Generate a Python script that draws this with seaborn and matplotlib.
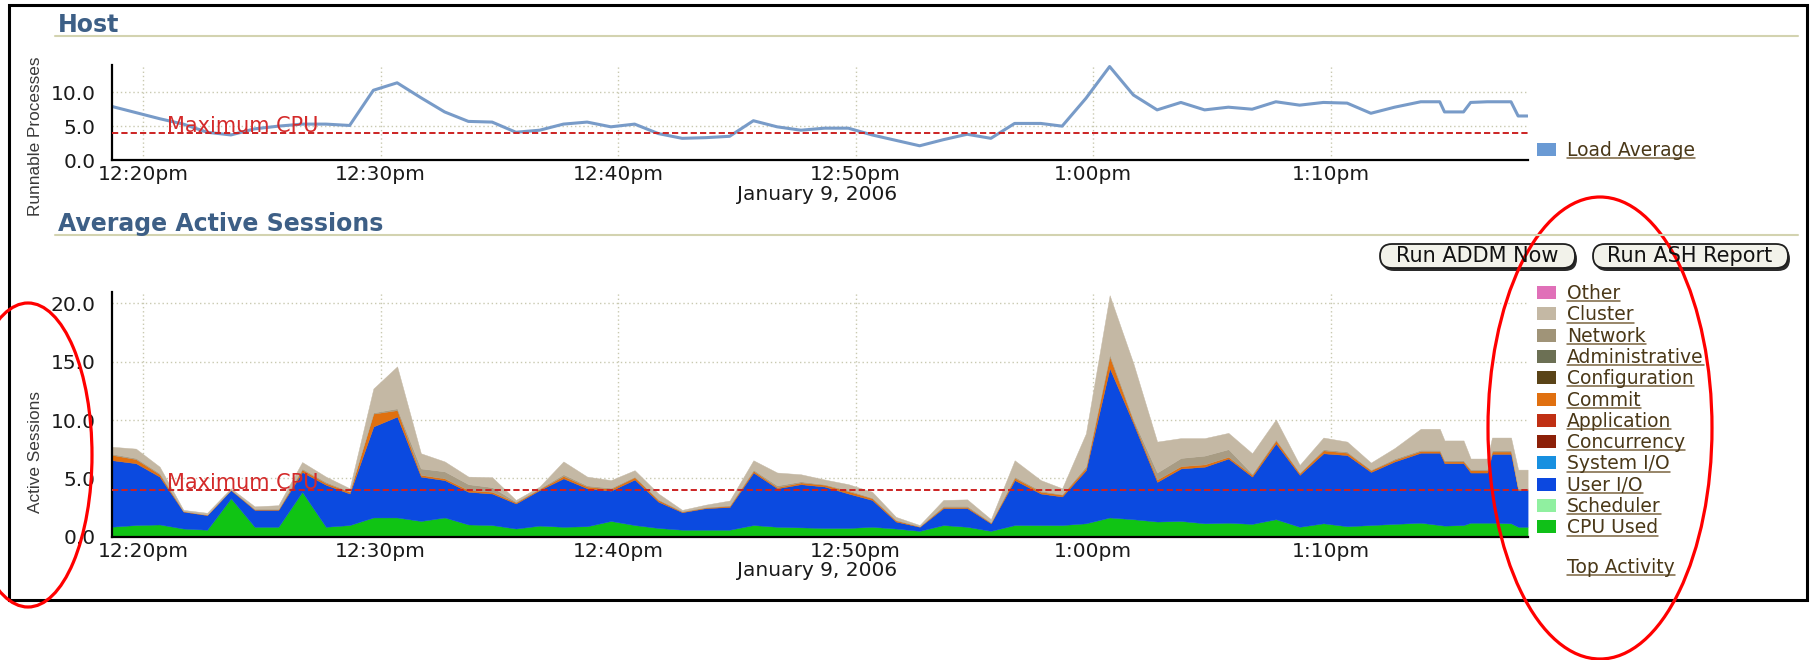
import matplotlib
matplotlib.use("Agg")
import matplotlib.pyplot as plt
from matplotlib.patches import Rectangle, Ellipse, FancyBboxPatch
import pandas as pd
import seaborn as sns

# data, x = minutes after 12:20pm
minutes = [-1.3, -0.3, 0.7, 1.7, 2.7, 3.7, 4.7, 5.7, 6.7, 7.7, 8.7, 9.7, 10.7, 11.7, 12.7,
           13.7, 14.7, 15.7, 16.7, 17.7, 18.7, 19.7, 20.7, 21.7, 22.7, 23.7, 24.7, 25.7,
           26.7, 27.7, 28.7, 29.7, 30.7, 31.7, 32.7, 33.7, 34.7, 35.7, 36.7, 37.8, 38.7,
           39.7, 40.7, 41.7, 42.7, 43.7, 44.7, 45.7, 46.7, 47.7, 48.7, 49.7, 50.7, 51.7,
           52.7, 53.8, 54.6, 54.8, 55.6, 55.9, 56.6, 56.8, 57.6, 57.9, 58.3]

load_avg = [7.9, 7.0, 6.1, 5.3, 4.1, 3.7, 4.6, 5.0, 5.3, 5.3, 5.1, 10.3, 11.4, 9.2, 7.1, 5.7, 5.6, 4.1, 4.4, 5.3,
            5.6, 4.9, 5.3, 3.9, 3.2, 3.3, 3.5, 5.8, 4.9, 4.4, 4.7, 4.7, 3.7, 2.9, 2.1, 3.0, 3.8, 3.2, 5.4, 5.4,
            5.0, 9.1, 13.8, 9.6, 7.4, 8.5, 7.4, 7.8, 7.5, 8.6, 8.1, 8.5, 8.4, 6.9, 7.8, 8.6, 8.6, 7.1, 7.1, 8.5,
            8.6, 8.6, 8.6, 6.5, 6.5]

cpu_used = [0.86, 1.0, 1.05, 0.7, 0.6, 3.3, 0.85, 0.85, 3.85, 0.85, 1.0, 1.65, 1.65, 1.35, 1.65, 1.05, 1.0, 0.7, 0.95, 0.85,
            0.9, 1.35, 1.0, 0.75, 0.6, 0.6, 0.6, 1.0, 0.85, 0.8, 0.75, 0.75, 0.85, 0.7, 0.5, 1.0, 0.85, 0.5, 1.0, 1.0,
            1.0, 1.15, 1.65, 1.5, 1.3, 1.35, 1.15, 1.2, 1.1, 1.5, 0.85, 1.15, 0.9, 1.0, 1.1, 1.2, 1.0, 0.95, 1.0, 1.2,
            1.2, 1.2, 1.15, 0.85, 0.85]

user_io = [5.7, 5.3, 4.1, 1.45, 1.25, 0.7, 1.45, 1.45, 1.7, 3.6, 2.7, 7.8, 8.65, 3.8, 3.2, 2.8, 2.7, 2.15, 3.05, 4.15,
           3.25, 2.6, 3.9, 2.25, 1.5, 1.85, 1.95, 4.5, 3.3, 3.7, 3.55, 2.95, 2.3, 0.6, 0.35, 1.45, 1.6, 0.65, 3.85, 2.7,
           2.45, 4.55, 12.8, 8.2, 3.4, 4.5, 4.85, 5.5, 4.05, 6.5, 4.45, 6.0, 6.1, 4.55, 5.35, 6.0, 6.2, 5.35, 5.3, 4.3,
           4.3, 5.9, 5.95, 3.15, 3.15]

commit = [0.45, 0.35, 0.2, 0.05, 0.05, 0.05, 0.05, 0.05, 0.2, 0.15, 0.15, 1.1, 0.55, 0.15, 0.15, 0.15, 0.15, 0.1, 0.1, 0.2,
          0.15, 0.15, 0.2, 0.15, 0.05, 0.05, 0.1, 0.15, 0.1, 0.15, 0.15, 0.2, 0.15, 0.1, 0.05, 0.1, 0.1, 0.05, 0.2, 0.15,
          0.15, 0.2, 1.0, 0.2, 0.2, 0.2, 0.2, 0.15, 0.15, 0.25, 0.15, 0.25, 0.2, 0.15, 0.15, 0.15, 0.15, 0.15, 0.15, 0.2,
          0.2, 0.2, 0.2, 0.05, 0.05]

network = [0.1, 0.1, 0.1, 0.0, 0.0, 0.0, 0.05, 0.05, 0.1, 0.1, 0.05, 0.1, 0.15, 0.55, 0.6, 0.5, 0.4, 0.05, 0.05, 0.15,
           0.1, 0.1, 0.05, 0.05, 0.05, 0.05, 0.05, 0.1, 0.15, 0.1, 0.05, 0.1, 0.05, 0.05, 0.0, 0.1, 0.1, 0.05, 0.1, 0.1,
           0.05, 0.15, 0.2, 0.15, 0.6, 0.7, 0.75, 0.65, 0.1, 0.1, 0.05, 0.1, 0.1, 0.05, 0.1, 0.1, 0.1, 0.1, 0.1, 0.1,
           0.1, 0.1, 0.1, 0.1, 0.1]

cluster = [0.6, 0.8, 0.55, 0.1, 0.15, 0.1, 0.2, 0.3, 0.55, 0.45, 0.25, 2.05, 3.6, 1.3, 0.85, 0.65, 0.85, 0.15, 0.15, 1.1,
           0.75, 0.65, 0.55, 0.5, 0.1, 0.2, 0.4, 0.8, 1.1, 0.6, 0.4, 0.5, 0.5, 0.25, 0.1, 0.5, 0.55, 0.25, 1.4, 0.9,
           0.5, 2.8, 5.05, 4.8, 2.65, 1.7, 1.5, 1.4, 1.75, 1.7, 0.65, 1.0, 0.85, 0.6, 0.9, 1.8, 1.8, 1.7, 1.7, 0.9,
           0.9, 1.1, 1.1, 1.6, 1.6]

tick_minutes = [0, 10, 20, 30, 40, 50]
tick_labels = ["12:20pm", "12:30pm", "12:40pm", "12:50pm", "1:00pm", "1:10pm"]
date_label = "January 9, 2006"
max_cpu = 4.0

legend_names = ["Other", "Cluster", "Network", "Administrative", "Configuration", "Commit",
                "Application", "Concurrency", "System I/O", "User I/O", "Scheduler", "CPU Used"]
legend_colors = ["#e070b8", "#c4b8a4", "#a09478", "#6c7054", "#5a4418", "#e07010",
                 "#c03014", "#8c2008", "#1890e0", "#0c48e0", "#90f0a0", "#10c018"]

# colours of the stacked bands (bottom -> top)
stack_colors = ["#10c414", "#0b4ae0", "#e07010", "#a89c84", "#c4b8a4"]

W, H, DPI = 1812, 660, 100
PX_PER_MIN = 23.75   # pixels per minute on the time axis
X_1220 = 143.0       # pixel x of 12:20pm

sns.set_theme(style="white")
plt.rcParams["font.family"] = ["DejaVu Sans"]

fig = plt.figure(figsize=(W / DPI, H / DPI), dpi=DPI)
fig.patch.set_facecolor("white")


def rect(top, bottom):
    left = X_1220 + minutes[0] * PX_PER_MIN
    right = X_1220 + minutes[-1] * PX_PER_MIN
    return [left / W, 1 - bottom / H, (right - left) / W, (bottom - top) / H]


def style_axis(ax, ymax, yticks):
    ax.set_xlim(minutes[0], minutes[-1])
    ax.set_ylim(0, ymax)
    ax.set_xticks(tick_minutes)
    ax.set_xticklabels(tick_labels)
    ax.set_yticks(yticks)
    ax.set_yticklabels([f"{v:.1f}" for v in yticks])
    ax.tick_params(axis="both", length=0, labelsize=14.5, colors="#1a1a1a")
    ax.tick_params(axis="y", pad=12)
    ax.tick_params(axis="x", pad=3.5)
    for s in ["top", "right"]:
        ax.spines[s].set_visible(False)
    for s in ["left", "bottom"]:
        ax.spines[s].set_color("black")
        ax.spines[s].set_linewidth(1.6)
    ax.grid(True, linestyle=(0, (1, 2)), color="#c9c9b0", linewidth=1)
    ax.set_axisbelow(True)
    ax.set_xlabel("")
    ax.set_ylabel("")
    ax.axhline(max_cpu, color="#cc2222", linestyle=(0, (3.2, 1.6)), linewidth=1.4, zorder=5)
    ax.annotate("Maximum CPU", xy=(1.0, max_cpu), xytext=(0, 1), textcoords="offset points",
                ha="left", va="baseline", fontsize=15, color="#d42a2a", zorder=6)


# host panel
ax_host = fig.add_axes(rect(65.2, 160))
host_df = pd.DataFrame({"minute": minutes, "load": load_avg})
sns.lineplot(data=host_df, x="minute", y="load", ax=ax_host, color="#789bc8", linewidth=2.2)
style_axis(ax_host, 14, [0, 5, 10])

# average active sessions panel
ax_aas = fig.add_axes(rect(291.7, 536.7))
ax_aas.stackplot(minutes, cpu_used, user_io, commit, network, cluster,
                 colors=stack_colors, edgecolor="face", linewidth=0.3)
style_axis(ax_aas, 21, [0, 5, 10, 15, 20])

# overlay in pixel coordinates for the page decoration
ov = fig.add_axes([0, 0, 1, 1], facecolor="none")
ov.set_xlim(0, W)
ov.set_ylim(H, 0)
ov.axis("off")

ov.add_patch(Rectangle((9, 5), 1798, 595, fill=False, ec="black", lw=2.2))

for txt, base, line_y in [("Host", 32, 35.5), ("Average Active Sessions", 231, 234.5)]:
    ov.text(58, base, txt, fontsize=17, fontweight="bold", color="#3d5f86", va="baseline", ha="left")
    ov.plot([55, 1798], [line_y, line_y], color="#d3d3b0", lw=1.5)

ov.text(36, 136, "Runnable Processes", rotation=90, ha="center", va="center",
        fontsize=12.4, family=["Liberation Sans"], color="#3a3a3a")
ov.text(36, 452, "Active Sessions", rotation=90, ha="center", va="center",
        fontsize=12.4, family=["Liberation Sans"], color="#3a3a3a")

ov.text(897, 200, date_label, ha="right", va="baseline", fontsize=14.5, color="#1a1a1a")
ov.text(897, 576.5, date_label, ha="right", va="baseline", fontsize=14.5, color="#1a1a1a")

# buttons
for x0, label in [(1380, "Run ADDM Now"), (1593, "Run ASH Report")]:
    ov.add_patch(FancyBboxPatch((x0 + 2, 247), 195, 24, boxstyle="round,pad=0,rounding_size=12",
                                fc="#2a2a2a", ec="none"))
    ov.add_patch(FancyBboxPatch((x0, 244), 195, 24, boxstyle="round,pad=0,rounding_size=12",
                                fc="#f2f2ea", ec="#1e1e1e", lw=1.3))
    ov.text(x0 + 97, 262.5, label, ha="center", va="baseline", fontsize=15, color="#111111")

# legends
link_color = "#4a3818"
links = []
ov.add_patch(Rectangle((1537, 143), 19, 13, fc="#6a9ad4", ec="none"))
links.append((ov.text(1567, 155.5, "Load Average", fontsize=13.5, color=link_color, va="baseline"), 155.5))
for i, (name, col) in enumerate(zip(legend_names, legend_colors)):
    base = 299 + 21.3 * i
    ov.add_patch(Rectangle((1537, base - 13), 19, 13, fc=col, ec="none"))
    links.append((ov.text(1567, base, name, fontsize=13.5, color=link_color, va="baseline"), base))
links.append((ov.text(1567, 573, "Top Activity", fontsize=13.5, color=link_color, va="baseline"), 573))

fig.canvas.draw()
renderer = fig.canvas.get_renderer()
for t, base in links:
    bb = t.get_window_extent(renderer)
    ov.plot([bb.x0, bb.x1], [base + 2.2, base + 2.2], color="#7a6440", lw=1.1)

# red annotation ellipses
ov.add_patch(Ellipse((28, 455), 128, 304, fill=False, ec="#ff0000", lw=2.3))
ov.add_patch(Ellipse((1600, 428), 224, 462, fill=False, ec="#ff0000", lw=2.3))

fig.savefig("out.png", dpi=DPI)
